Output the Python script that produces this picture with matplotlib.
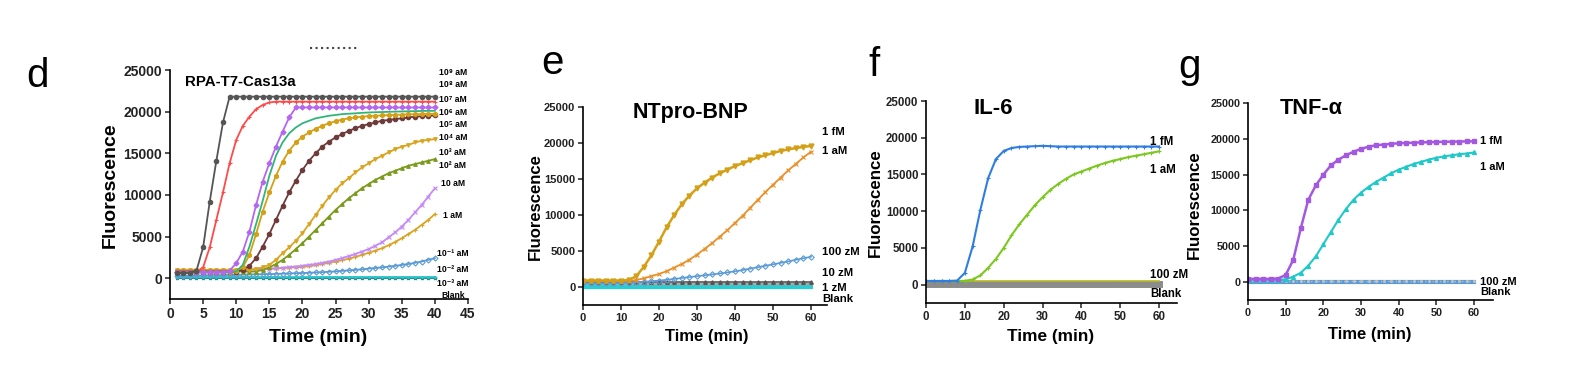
import matplotlib.pyplot as plt
from matplotlib.lines import Line2D

plt.rcParams['font.family'] = ['Liberation Sans', 'DejaVu Sans']
plt.rcParams['font.weight'] = 'bold'

# ---- panel d: RPA-T7-Cas13a, read every minute (1..40 min)
t_d = list(range(1, 41))
d_1e9 = [600, 600, 650, 900, 3700, 9200, 14100, 18700, 21800, 21800,
         21800, 21800, 21800, 21800, 21800, 21800, 21800, 21800, 21800, 21800,
         21800, 21800, 21800, 21800, 21800, 21800, 21800, 21800, 21800, 21800,
         21800, 21800, 21800, 21800, 21800, 21800, 21800, 21800, 21800, 21800]
d_1e8 = [700, 700, 700, 750, 1300, 3700, 7000, 10300, 13800, 16600,
         18300, 19400, 20300, 20800, 21100, 21200, 21200, 21200, 21200, 21200,
         21200, 21200, 21200, 21200, 21200, 21200, 21200, 21200, 21200, 21200,
         21200, 21200, 21200, 21200, 21200, 21200, 21200, 21200, 21200, 21200]
d_1e7 = [700, 700, 700, 700, 700, 700, 700, 700, 900, 1800,
         3200, 5600, 8800, 11600, 13800, 15800, 17600, 19300, 20500, 20500,
         20500, 20500, 20500, 20500, 20500, 20500, 20500, 20500, 20500, 20500,
         20500, 20500, 20500, 20500, 20500, 20500, 20500, 20500, 20500, 20500]
d_1e6 = [700, 700, 700, 700, 700, 700, 700, 700, 700, 800,
         1600, 3800, 6500, 9300, 12300, 14700, 16300, 17400, 18100, 18600,
         18900, 19200, 19350, 19500, 19600, 19700, 19750, 19800, 19850, 19900,
         19930, 19950, 19980, 20000, 20020, 20040, 20060, 20080, 20090, 20100]
d_1e5 = [700, 700, 700, 700, 700, 700, 700, 700, 700, 900,
         1300, 2800, 5300, 8000, 10300, 12300, 14000, 15300, 16300, 17000,
         17500, 17950, 18300, 18600, 18850, 19050, 19200, 19300, 19400, 19450,
         19500, 19540, 19580, 19610, 19640, 19670, 19690, 19710, 19730, 19750]
d_1e4 = [800, 800, 800, 800, 800, 800, 800, 800, 800, 800,
         1000, 1500, 2400, 3800, 5300, 7000, 8700, 10300, 11700, 13000,
         14100, 15000, 15800, 16400, 16900, 17300, 17700, 18000, 18300, 18500,
         18700, 18900, 19000, 19100, 19200, 19300, 19400, 19450, 19500, 19550]
d_1e3 = [1000, 1000, 1000, 1000, 1000, 1000, 1000, 1000, 1000, 1000,
         1000, 1000, 1100, 1300, 1600, 2200, 3000, 3700, 4500, 5400,
         6500, 7600, 8700, 9700, 10600, 11400, 12000, 12700, 13300, 13800,
         14300, 14700, 15100, 15500, 15800, 16000, 16300, 16500, 16600, 16700]
d_1e2 = [800, 800, 800, 800, 800, 800, 800, 800, 800, 800,
         800, 800, 800, 1000, 1300, 1700, 2200, 2800, 3500, 4200,
         5000, 5800, 6600, 7400, 8200, 8900, 9600, 10200, 10800, 11300,
         11800, 12200, 12600, 12900, 13200, 13500, 13700, 13900, 14100, 14300]
d_10 = [900, 900, 900, 900, 900, 900, 900, 900, 900, 900,
        950, 1000, 1050, 1100, 1150, 1200, 1250, 1350, 1400, 1500,
        1600, 1700, 1850, 2000, 2200, 2400, 2650, 2900, 3200, 3500,
        3900, 4300, 4900, 5500, 6200, 7000, 7900, 8800, 9800, 10800]
d_1 = [1000, 1000, 1000, 1000, 1000, 1000, 1000, 1000, 1000, 1000,
       1020, 1050, 1070, 1100, 1120, 1150, 1200, 1250, 1300, 1350,
       1440, 1550, 1700, 1850, 2000, 2150, 2350, 2550, 2800, 3050,
       3300, 3600, 3950, 4350, 4800, 5300, 5800, 6400, 7000, 7700]
d_1em1 = [300, 310, 320, 330, 340, 350, 360, 370, 385, 400,
          420, 440, 460, 480, 500, 520, 545, 570, 595, 620,
          650, 690, 720, 770, 820, 880, 940, 1000, 1070, 1150,
          1220, 1300, 1390, 1480, 1590, 1700, 1850, 2000, 2200, 2400]
d_1em2 = [150, 150, 150, 150, 150, 150, 150, 150, 150, 150,
          150, 150, 150, 150, 150, 150, 150, 150, 150, 150,
          150, 150, 150, 150, 150, 150, 150, 150, 150, 150,
          150, 150, 150, 150, 150, 150, 150, 150, 150, 150]
d_1em3 = [60, 60, 60, 60, 60, 60, 60, 60, 60, 60,
          60, 60, 60, 60, 60, 60, 60, 60, 60, 60,
          60, 60, 60, 60, 60, 60, 60, 60, 60, 60,
          60, 60, 60, 60, 60, 60, 60, 60, 60, 60]
d_blank = [0, 0, 0, 0, 0, 0, 0, 0, 0, 0,
           0, 0, 0, 0, 0, 0, 0, 0, 0, 0,
           0, 0, 0, 0, 0, 0, 0, 0, 0, 0,
           0, 0, 0, 0, 0, 0, 0, 0, 0, 0]
d_labels = ['10⁹ aM', '10⁸ aM', '10⁷ aM', '10⁶ aM', '10⁵ aM', '10⁴ aM', '10³ aM',
            '10² aM', '10 aM', '1 aM', '10⁻¹ aM', '10⁻² aM', '10⁻³ aM', 'Blank']

# ---- panels e, f, g: read every 2 minutes (0..60 min)
t_efg = list(range(0, 61, 2))
e_1fM = [900, 900, 900, 900, 900, 900, 950, 1500, 2800, 4400, 6300, 8300, 10000, 11500, 12700, 13700,
         14500, 15200, 15800, 16300, 16800, 17200, 17600, 18000, 18300, 18600, 18900, 19100, 19300, 19450, 19600]
e_1aM = [850, 850, 850, 850, 850, 850, 850, 950, 1200, 1500, 1800, 2200, 2700, 3200, 3800, 4500,
         5300, 6100, 7000, 7900, 8900, 9900, 11000, 12100, 13200, 14200, 15200, 16200, 17100, 18000, 18800]
e_100zM = [500, 500, 500, 520, 540, 560, 600, 650, 720, 800, 900, 1000, 1120, 1250, 1380, 1500,
           1630, 1750, 1880, 2020, 2180, 2350, 2550, 2750, 2950, 3150, 3350, 3550, 3780, 4000, 4200]
e_10zM = [650, 650, 650, 650, 650, 650, 650, 650, 650, 650, 650, 650, 650, 650, 650, 650,
          650, 650, 650, 650, 650, 650, 650, 650, 650, 650, 650, 650, 650, 650, 650]
e_1zM = [400, 400, 400, 400, 400, 400, 400, 400, 400, 400, 400, 400, 400, 400, 400, 400,
         400, 400, 400, 400, 400, 400, 400, 400, 400, 400, 400, 400, 400, 400, 400]
e_blank = [0, 0, 0, 0, 0, 0, 0, 0, 0, 0, 0, 0, 0, 0, 0, 0,
           0, 0, 0, 0, 0, 0, 0, 0, 0, 0, 0, 0, 0, 0, 0]
e_labels = ['1 fM', '1 aM', '100 zM', '10 zM', '1 zM', 'Blank']

f_1fM = [500, 500, 500, 500, 550, 1600, 5200, 10200, 14500, 17100, 18200, 18600, 18750, 18800, 18850, 18900,
         18850, 18800, 18800, 18800, 18800, 18800, 18800, 18800, 18800, 18800, 18800, 18800, 18800, 18800, 18800]
f_1aM = [500, 500, 500, 500, 500, 520, 700, 1250, 2300, 3500, 5000, 6700, 8200, 9500, 10800, 11900,
         12900, 13700, 14400, 15000, 15400, 15800, 16200, 16550, 16850, 17100, 17350, 17550, 17750, 17950, 18150]
f_100zM = [450, 450, 450, 450, 450, 450, 450, 450, 450, 450, 450, 450, 450, 450, 450, 450,
           450, 450, 450, 450, 450, 450, 450, 450, 450, 450, 450, 450, 450, 450, 450]
f_blank = [80, 80, 80, 80, 80, 80, 80, 80, 80, 80, 80, 80, 80, 80, 80, 80,
           80, 80, 80, 80, 80, 80, 80, 80, 80, 80, 80, 80, 80, 80, 80]
f_labels = ['1 fM', '1 aM', '100 zM', 'Blank']

g_1fM = [450, 450, 450, 450, 500, 1000, 3100, 7500, 11500, 13500, 15000, 16300, 17100, 17700, 18200, 18600,
         18900, 19100, 19200, 19300, 19380, 19420, 19460, 19500, 19530, 19560, 19580, 19600, 19620, 19640, 19650]
g_1aM = [300, 300, 300, 300, 300, 400, 750, 1300, 2300, 3600, 5300, 7000, 8700, 10200, 11500, 12500,
         13300, 14000, 14600, 15200, 15700, 16100, 16500, 16800, 17100, 17350, 17550, 17700, 17850, 17950, 18100]
g_100zM = [200, 200, 200, 200, 200, 200, 200, 200, 200, 200, 200, 200, 200, 200, 200, 200,
           200, 200, 200, 200, 200, 200, 200, 200, 200, 200, 200, 200, 200, 200, 200]
g_blank = [0, 0, 0, 0, 0, 0, 0, 0, 0, 0, 0, 0, 0, 0, 0, 0,
           0, 0, 0, 0, 0, 0, 0, 0, 0, 0, 0, 0, 0, 0, 0]
g_labels = ['1 fM', '1 aM', '100 zM', 'Blank']

W, H = 1569, 386
fig = plt.figure(figsize=(W / 100, H / 100), dpi=100)


def box(l, t, r, b):
    return [l / W, 1 - b / H, (r - l) / W, (b - t) / H]


def ftext(x, y, s, **kw):
    fig.text(x / W, 1 - y / H, s, **kw)


def style(ax, xmax, xticks, fs):
    ax.spines['top'].set_visible(False)
    ax.spines['right'].set_visible(False)
    for s in ('left', 'bottom'):
        ax.spines[s].set_linewidth(1.2)
    ax.set_xlim(0, xmax)
    ax.set_ylim(-2500, 25000)
    ax.set_yticks(range(0, 25001, 5000))
    ax.set_xticks(xticks)
    ax.tick_params(labelsize=fs, length=3.5, width=1.1, colors='#222222', pad=2)


# ---------------- d
ax = fig.add_axes(box(170, 70, 468, 299))
d_series = [
    (d_blank, '#3fd0d6', None), (d_1em3, '#1f8d8f', '*'), (d_1em2, '#2cc5cc', '.'),
    (d_1em1, '#5b9bd5', 'D'), (d_1, '#d9a521', '+'), (d_10, '#c58af5', 'x'),
    (d_1e2, '#7a9a1a', '^'), (d_1e3, '#d9a521', 'v'), (d_1e4, '#6e3b3b', 'o'),
    (d_1e5, '#d4a017', 'h'), (d_1e6, '#2fb57a', None), (d_1e7, '#b566f0', 'D'),
    (d_1e8, '#ff4a4a', '+'), (d_1e9, '#555555', 'o'),
]
for y, c, m in d_series:
    ms = 3.2 if m in ('o', 'h') else 2.6
    mfc = 'none' if c == '#5b9bd5' else c
    ax.plot(t_d, y, color=c, lw=1.3, marker=m, ms=ms, mfc=mfc, mew=0.8)
style(ax, 45, range(0, 46, 5), 10)
ax.text(2.3, 23600, 'RPA-T7-Cas13a', fontsize=10.8, ha='left', va='center')
d_label_y = [24640, 23200, 21500, 19950, 18500, 16950, 15150, 13580, 11420, 7570, 3000, 1080, -600, -2050]
for lab, yy in zip(d_labels, d_label_y):
    ax.text(42.7, yy, lab, fontsize=6.2, ha='center', va='center', clip_on=False)
ftext(110, 185, 'Fluorescence', fontsize=14, rotation=90, ha='center', va='center')
ftext(318, 337, 'Time (min)', fontsize=14, ha='center', va='center')
ftext(37, 87, 'd', fontsize=29, fontweight='normal', ha='center', va='baseline')
fig.add_artist(Line2D([310 / W, 358 / W], [1 - 48 / H] * 2, ls=':', lw=1.5, color='#444444'))

# ---------------- e
ax = fig.add_axes(box(583, 107, 827, 305))
ax.plot(t_efg, e_blank, color='#22d0d6', lw=3)
ax.plot(t_efg, e_1zM, color='#9a9a9a', lw=1.2, marker='.', ms=3)
ax.plot(t_efg, e_10zM, color='#555555', lw=1.2, marker='^', ms=2.5)
ax.plot(t_efg, e_100zM, color='#5b9bd5', lw=1.2, marker='D', ms=2.8, mfc='none', mew=0.8)
ax.plot(t_efg, e_1aM, color='#e8902a', lw=1.3, marker='x', ms=2.8, mew=0.8)
ax.plot(t_efg, e_1fM, color='#d4a017', lw=1.8, marker='v', ms=3.5)
style(ax, 64.2, range(0, 61, 10), 8)
ax.text(28.4, 24300, 'NTpro-BNP', fontsize=15.5, ha='center', va='center')
for lab, yy in zip(e_labels, [21530, 18890, 4860, 1940, -140, -1670]):
    ax.text(62.9, yy, lab, fontsize=8.2, ha='left', va='center', clip_on=False)
ftext(535, 207, 'Fluorescence', fontsize=12, rotation=90, ha='center', va='center')
ftext(707, 337, 'Time (min)', fontsize=12, ha='center', va='center')
ftext(552, 74, 'e', fontsize=29, fontweight='normal', ha='center', va='baseline')

# ---------------- f
ax = fig.add_axes(box(926, 101, 1177, 303))
ax.plot(t_efg, f_blank, color='#8c8c8c', lw=5, marker='o', ms=3)
ax.plot(t_efg, f_100zM, color='#b8b820', lw=1.2)
ax.plot(t_efg, f_1aM, color='#7cc820', lw=1.5, marker='+', ms=3, mew=0.8)
ax.plot(t_efg, f_1fM, color='#2f7de1', lw=1.5, marker='+', ms=3, mew=0.8)
style(ax, 64.6, range(0, 61, 10), 8.3)
ax.text(17.3, 23970, 'IL-6', fontsize=16, ha='center', va='center')
for lab, yy in zip(f_labels, [19480, 15660, 1360, -1230]):
    ax.text(57.6, yy, lab, fontsize=8.3, ha='left', va='center', clip_on=False)
ftext(875, 203, 'Fluorescence', fontsize=12.2, rotation=90, ha='center', va='center')
ftext(1051, 337, 'Time (min)', fontsize=12.4, ha='center', va='center')
ftext(874, 76, 'f', fontsize=29, fontweight='normal', ha='center', va='baseline')

# ---------------- g
ax = fig.add_axes(box(1248, 103, 1493, 300))
ax.plot(t_efg, g_blank, color='#5b9bd5', lw=3)
ax.plot(t_efg, g_100zM, color='#c0c0c0', lw=1, ls=':', marker='.', ms=2.5)
ax.plot(t_efg, g_1aM, color='#20c8c8', lw=1.5, marker='^', ms=2.8)
ax.plot(t_efg, g_1fM, color='#a259e0', lw=1.8, marker='s', ms=3)
style(ax, 65, range(0, 61, 10), 7.8)
ax.text(16.7, 24300, 'TNF-α', fontsize=15.7, ha='center', va='center')
for lab, yy in zip(g_labels, [19700, 16070, 0, -1400]):
    ax.text(61.6, yy, lab, fontsize=8, ha='left', va='center', clip_on=False)
ftext(1194, 205, 'Fluorescence', fontsize=12.2, rotation=90, ha='center', va='center')
ftext(1370, 335, 'Time (min)', fontsize=12, ha='center', va='center')
ftext(1189, 78, 'g', fontsize=29, fontweight='normal', ha='center', va='baseline')

fig.savefig('out.png', dpi=100)
